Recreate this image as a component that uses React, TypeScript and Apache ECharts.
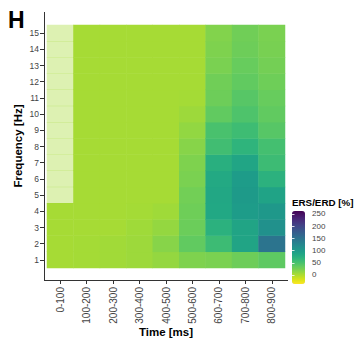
import { useEffect, useRef } from "react";
import * as echarts from "echarts";

const timeBins = ["0-100", "100-200", "200-300", "300-400", "400-500", "500-600", "600-700", "700-800", "800-900"];
const freqs = ["1", "2", "3", "4", "5", "6", "7", "8", "9", "10", "11", "12", "13", "14", "15"];

// ERS/ERD [%] per time bin, frequencies 1..15 Hz
const t0_100 = [3, 3, 3, 3, 3, 3, 3, 3, 3, 3, 3, 3, 3, 3, 3];
const t100_200 = [4, 4, 3, 3, 3, 3, 3, 3, 3, 3, 3, 3, 3, 3, 3];
const t200_300 = [5, 5, 3, 3, 3, 3, 3, 3, 3, 3, 3, 3, 3, 3, 3];
const t300_400 = [7, 7, 6, 4, 3, 3, 3, 3, 3, 3, 3, 3, 3, 3, 3];
const t400_500 = [11, 17, 11, 6, 3, 3, 3, 3, 3, 3, 3, 3, 3, 3, 3];
const t500_600 = [21, 36, 31, 29, 27, 23, 21, 17, 12, 7, 4, 3, 3, 3, 3];
const t600_700 = [23, 58, 71, 83, 84, 81, 74, 55, 50, 36, 30, 28, 23, 21, 19];
const t700_800 = [30, 87, 87, 97, 100, 98, 86, 68, 57, 47, 42, 36, 33, 30, 28];
const t800_900 = [38, 148, 113, 103, 89, 71, 58, 53, 42, 36, 33, 29, 26, 24, 23];

// cells drawn faded in the first time bin
const fadedFirstBin = ["5", "6", "7", "8", "9", "10", "11", "12", "13", "14", "15"];

const legendTicks = [0, 50, 100, 150, 200, 250];
const colorMin = -37;
const colorMax = 262;

// viridis, low -> high of the original map
const viridis = [
  "#440154", "#471365", "#482475", "#463480", "#414487", "#3b528b", "#355f8d",
  "#2f6c8e", "#2a788e", "#25848e", "#21918c", "#1e9c89", "#22a884", "#2fb47c",
  "#44bf70", "#5ec962", "#7ad151", "#9bd93c", "#bddf26", "#dfe318", "#fde725",
];

const FONT = '"Liberation Sans", Arial, Helvetica, sans-serif';
const LABEL = "#444444";

export default function App() {
  const ref = useRef<HTMLDivElement>(null);

  useEffect(() => {
    const chart = echarts.init(ref.current!, null, { renderer: "svg" });
    const columns = [t0_100, t100_200, t200_300, t300_400, t400_500, t500_600, t600_700, t700_800, t800_900];
    const data: any[] = [];
    columns.forEach((col, xi) => {
      col.forEach((v, yi) => {
        const faded = xi === 0 && fadedFirstBin.includes(freqs[yi]);
        data.push(faded ? { value: [xi, yi, v], itemStyle: { opacity: 0.38 } } : [xi, yi, v]);
      });
    });

    chart.setOption({
      animation: false,
      grid: [
        { left: 47, top: 25, width: 238, height: 243, containLabel: false },
        { left: 292, top: 211, width: 13, height: 73, containLabel: false },
      ],
      xAxis: [
        {
          type: "category",
          data: timeBins,
          gridIndex: 0,
          offset: 12,
          axisLine: { show: false },
          axisTick: { show: true, alignWithLabel: true, length: 4, lineStyle: { color: "#333" } },
          axisLabel: { rotate: 90, margin: 7, fontSize: 10, color: LABEL, fontFamily: FONT, interval: 0 },
          splitLine: { show: false },
        },
        { type: "value", gridIndex: 1, min: 0, max: 1, show: false },
      ],
      yAxis: [
        {
          type: "category",
          data: freqs,
          gridIndex: 0,
          offset: 3,
          axisLine: { show: false },
          axisTick: { show: true, alignWithLabel: true, length: 4, lineStyle: { color: "#333" } },
          axisLabel: { margin: 5, fontSize: 8.5, color: LABEL, fontFamily: FONT, interval: 0 },
          splitLine: { show: false },
        },
        {
          type: "value",
          gridIndex: 1,
          min: colorMin,
          max: colorMax,
          position: "right",
          z: 10,
          axisLine: { show: false },
          axisTick: { show: true, inside: true, length: 2.5, customValues: legendTicks, lineStyle: { color: "#ffffff", width: 0.8 } },
          axisLabel: { customValues: legendTicks, margin: 7, fontSize: 8, color: LABEL, fontFamily: FONT },
          splitLine: { show: false },
        },
        {
          type: "value",
          gridIndex: 1,
          min: colorMin,
          max: colorMax,
          position: "left",
          z: 10,
          axisLine: { show: false },
          axisTick: { show: true, inside: true, length: 2.5, customValues: legendTicks, lineStyle: { color: "#ffffff", width: 0.8 } },
          axisLabel: { show: false },
          splitLine: { show: false },
        },
      ],
      visualMap: {
        type: "continuous",
        min: colorMin,
        max: colorMax,
        dimension: 2,
        seriesIndex: 0,
        calculable: false,
        hoverLink: false,
        orient: "vertical",
        left: 292,
        top: 211,
        itemWidth: 13,
        itemHeight: 73,
        padding: 0,
        inRange: { color: viridis.slice().reverse() },
        textStyle: { fontSize: 8 },
      },
      series: [
        {
          type: "heatmap",
          xAxisIndex: 0,
          yAxisIndex: 0,
          data,
          itemStyle: { borderWidth: 0 },
          emphasis: { disabled: true },
        },
      ],
      graphic: [
        { type: "line", shape: { x1: 44.5, y1: 12, x2: 44.5, y2: 280.5 }, style: { stroke: "#333", lineWidth: 1 } },
        { type: "line", shape: { x1: 44, y1: 280.5, x2: 288, y2: 280.5 }, style: { stroke: "#333", lineWidth: 1 } },
        { type: "text", x: 8, y: 20, style: { text: "H", font: `bold 23px ${FONT}`, fill: "#000", align: "left", verticalAlign: "middle" } },
        { type: "text", x: 18, y: 146, rotation: Math.PI / 2, style: { text: "Frequency [Hz]", font: `bold 11.5px ${FONT}`, fill: "#000", align: "center", verticalAlign: "middle" } },
        { type: "text", x: 166, y: 332, style: { text: "Time [ms]", font: `bold 11.5px ${FONT}`, fill: "#000", align: "center", verticalAlign: "middle" } },
        { type: "text", x: 292, y: 202, style: { text: "ERS/ERD [%]", font: `bold 9.8px ${FONT}`, fill: "#000", align: "left", verticalAlign: "middle" } },
      ],
    });

    return () => chart.dispose();
  }, []);

  return <div ref={ref} style={{ position: "absolute", left: 0, top: 0, width: 360, height: 347 }} />;
}
